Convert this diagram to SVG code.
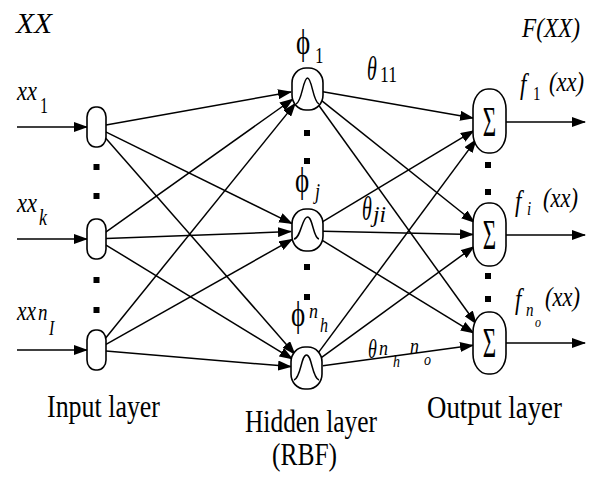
<svg xmlns="http://www.w3.org/2000/svg" width="592" height="477" viewBox="0 0 592 477">
<style>
text{font-family:'Liberation Serif','DejaVu Serif',serif;fill:#000}
.i{font-style:italic}
.node{fill:#fff;stroke:#000;stroke-width:1.6}
.bell{fill:none;stroke:#000;stroke-width:1.5}
.edge{stroke:#000;stroke-width:1.5;fill:none;marker-end:url(#ah)}
.dot{fill:#000}
</style>
<defs>
<marker id="ah" markerUnits="userSpaceOnUse" markerWidth="14" markerHeight="10" viewBox="0 0 14 10" refX="13" refY="5" orient="auto">
<path d="M0,0 L14,5 L0,10 Z" fill="#000"/>
</marker>
</defs>
<rect width="592" height="477" fill="#fff"/>

<g id="connectors">
<line class="edge" x1="17" y1="127" x2="87" y2="127"/>
<line class="edge" x1="17" y1="239" x2="87" y2="239"/>
<line class="edge" x1="17" y1="350" x2="87" y2="350"/>
<line class="edge" x1="106" y1="125" x2="291" y2="92"/>
<line class="edge" x1="105.7" y1="131.8" x2="292" y2="223.6"/>
<line class="edge" x1="104.7" y1="136.9" x2="294.9" y2="354.2"/>
<line class="edge" x1="105.4" y1="232.3" x2="292.9" y2="99"/>
<line class="edge" x1="106" y1="238.6" x2="291" y2="231.6"/>
<line class="edge" x1="105.6" y1="244.8" x2="292.5" y2="359.1"/>
<line class="edge" x1="104.5" y1="339.5" x2="295.4" y2="103.4"/>
<line class="edge" x1="105.6" y1="344.6" x2="292.3" y2="239.3"/>
<line class="edge" x1="106" y1="350.9" x2="291" y2="366.6"/>
<line class="edge" x1="322.9" y1="91.8" x2="473.1" y2="118"/>
<line class="edge" x1="320.7" y1="99.9" x2="474.4" y2="222.5"/>
<line class="edge" x1="318" y1="104.3" x2="476.3" y2="324"/>
<line class="edge" x1="321.5" y1="222.3" x2="473.8" y2="130.7"/>
<line class="edge" x1="323" y1="231.3" x2="473" y2="234.6"/>
<line class="edge" x1="321.5" y1="239.9" x2="473.8" y2="333.1"/>
<line class="edge" x1="318.2" y1="352.9" x2="476.2" y2="139.6"/>
<line class="edge" x1="321" y1="357.8" x2="474.1" y2="246.5"/>
<line class="edge" x1="322.9" y1="365.8" x2="473" y2="345.3"/>
<line class="edge" x1="506" y1="122" x2="585" y2="122"/>
<line class="edge" x1="506" y1="235" x2="585" y2="235"/>
<line class="edge" x1="506" y1="343" x2="585" y2="343"/>
</g>

<g id="input1"><rect class="node" x="87" y="107" width="19" height="40" rx="8.5" ry="10"/></g>
<g id="inputk"><rect class="node" x="87" y="219" width="19" height="40" rx="8.5" ry="10"/></g>
<g id="inputn"><rect class="node" x="87" y="330" width="19" height="40" rx="8.5" ry="10"/></g>

<g id="hidden1"><rect class="node" x="292" y="68" width="31" height="42" rx="14" ry="15"/>
<path class="bell" d="M296,104 C302,102 303,78 307.5,78 C312,78 313,102 319,104"/></g>
<g id="hiddenj"><rect class="node" x="292" y="209" width="31" height="42" rx="14" ry="15"/>
<path class="bell" d="M294,239 C301,238 302,217 307.5,217 C313,217 313,238 319,239"/></g>
<g id="hiddenn"><rect class="node" x="291" y="347" width="31" height="42" rx="14" ry="15"/>
<path class="bell" d="M294,380 C301,378 301,355 306.5,355 C312,355 312,378 319,380"/></g>

<g id="output1"><rect class="node" x="473" y="89" width="33" height="64" rx="15" ry="20"/>
<text font-size="23" text-anchor="middle" transform="translate(489.5 136) scale(1 1.8)">Σ</text></g>
<g id="outputi"><rect class="node" x="473" y="203" width="33" height="63" rx="15" ry="20"/>
<text font-size="23" text-anchor="middle" transform="translate(489.5 249) scale(1 1.8)">Σ</text></g>
<g id="outputn"><rect class="node" x="473" y="312" width="33" height="62" rx="15" ry="20"/>
<text font-size="23" text-anchor="middle" transform="translate(489.5 357) scale(1 1.8)">Σ</text></g>

<g id="dots">
<rect class="dot" x="93.5" y="164" width="6" height="6"/>
<rect class="dot" x="93.5" y="193" width="6" height="6"/>
<rect class="dot" x="93.5" y="277" width="6" height="6"/>
<rect class="dot" x="93.5" y="307" width="6" height="6"/>
<rect class="dot" x="304" y="130" width="6" height="6"/>
<rect class="dot" x="304" y="158" width="6" height="6"/>
<rect class="dot" x="304" y="264" width="6" height="6"/>
<rect class="dot" x="304" y="294" width="6" height="6"/>
<rect class="dot" x="485" y="162" width="6" height="6"/>
<rect class="dot" x="485" y="189" width="6" height="6"/>
<rect class="dot" x="485" y="273" width="6" height="6"/>
<rect class="dot" x="485" y="296" width="6" height="6"/>
</g>

<g id="labels">
<text class="i" font-size="27" textLength="36" lengthAdjust="spacingAndGlyphs" transform="translate(16 33) scale(1 1.1)">XX</text>
<text class="i" font-size="21" textLength="58" lengthAdjust="spacingAndGlyphs" transform="translate(522 37) scale(1 1.25)">F(XX)</text>

<text class="i" font-size="21" textLength="20" lengthAdjust="spacingAndGlyphs" transform="translate(17 100) scale(1 1.25)">xx</text>
<text font-size="16" transform="translate(40 113) scale(1 1.4)">1</text>
<text class="i" font-size="21" textLength="20" lengthAdjust="spacingAndGlyphs" transform="translate(17 212) scale(1 1.25)">xx</text>
<text class="i" font-size="18" transform="translate(39 225) scale(1 1.25)">k</text>
<text class="i" font-size="21" textLength="19" lengthAdjust="spacingAndGlyphs" transform="translate(17 320) scale(1 1.25)">xx</text>
<text class="i" font-size="19" transform="translate(38 320) scale(1 1.2)">n</text>
<text class="i" font-size="16" transform="translate(49 335) scale(1 1.25)">I</text>

<text font-size="27" transform="translate(296 54) scale(1 1.3)">ϕ</text>
<text font-size="17" transform="translate(315 63) scale(1 1.4)">1</text>
<text font-size="27" transform="translate(295 192) scale(1 1.3)">ϕ</text>
<text class="i" font-size="18" transform="translate(315 199) scale(1 1.3)">j</text>
<text font-size="27" transform="translate(291 326) scale(1 1.3)">ϕ</text>
<text class="i" font-size="18" transform="translate(309 318) scale(1 1.2)">n</text>
<text class="i" font-size="16" transform="translate(320 332) scale(1 1.25)">h</text>

<text class="i" font-size="20" transform="translate(367 80) scale(1 1.7)">θ</text>
<text font-size="17" textLength="17" lengthAdjust="spacingAndGlyphs" transform="translate(380 82) scale(1 1.3)">11</text>
<text class="i" font-size="20" transform="translate(362 220) scale(1 1.7)">θ</text>
<text class="i" font-size="17" textLength="13" lengthAdjust="spacingAndGlyphs" transform="translate(373 222) scale(1 1.3)">ji</text>
<text class="i" font-size="18" transform="translate(368 358) scale(1 1.5)">θ</text>
<text class="i" font-size="18" transform="translate(379 355) scale(1 1.2)">n</text>
<text class="i" font-size="14" transform="translate(393 367) scale(1 1.25)">h</text>
<text class="i" font-size="18" transform="translate(410 353) scale(1 1.2)">n</text>
<text class="i" font-size="14" transform="translate(424 365) scale(1 1.25)">o</text>

<text class="i" font-size="23" transform="translate(520 94) scale(1 1.25)">f</text>
<text font-size="15" transform="translate(533 100) scale(1 1.3)">1</text>
<text class="i" font-size="21" textLength="35" lengthAdjust="spacingAndGlyphs" transform="translate(549 91) scale(1 1.25)">(xx)</text>
<text class="i" font-size="23" transform="translate(515 211) scale(1 1.25)">f</text>
<text class="i" font-size="15" transform="translate(527 215) scale(1 1.3)">i</text>
<text class="i" font-size="21" textLength="35" lengthAdjust="spacingAndGlyphs" transform="translate(543 207) scale(1 1.25)">(xx)</text>
<text class="i" font-size="23" transform="translate(515 309) scale(1 1.25)">f</text>
<text class="i" font-size="15" transform="translate(526 316) scale(1 1.2)">n</text>
<text class="i" font-size="12" transform="translate(535 327) scale(1 1.2)">o</text>
<text class="i" font-size="21" textLength="35" lengthAdjust="spacingAndGlyphs" transform="translate(545 306) scale(1 1.25)">(xx)</text>

<text font-size="23" textLength="113" lengthAdjust="spacingAndGlyphs" transform="translate(47 417) scale(1 1.35)">Input layer</text>
<text font-size="23" textLength="132" lengthAdjust="spacingAndGlyphs" transform="translate(245 432) scale(1 1.35)">Hidden layer</text>
<text font-size="23" textLength="65" lengthAdjust="spacingAndGlyphs" transform="translate(272 465) scale(1 1.35)">(RBF)</text>
<text font-size="23" textLength="135" lengthAdjust="spacingAndGlyphs" transform="translate(427 418) scale(1 1.35)">Output layer</text>
</g>
</svg>
